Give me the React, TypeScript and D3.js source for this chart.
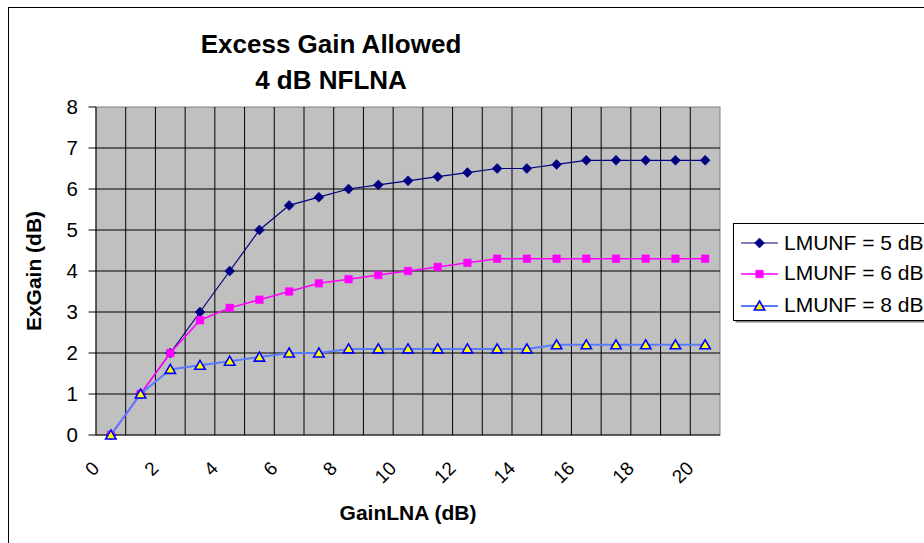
import React from 'react';
import * as d3 from 'd3';

const categories = ['0','1','2','3','4','5','6','7','8','9','10','11','12','13','14','15','16','17','18','19','20'];
const tickLabels = ['0','2','4','6','8','10','12','14','16','18','20'];
const yTicks = [0,1,2,3,4,5,6,7,8];
const lmunf5 = [0,1,2,3,4,5,5.6,5.8,6.0,6.1,6.2,6.3,6.4,6.5,6.5,6.6,6.7,6.7,6.7,6.7,6.7];
const lmunf6 = [0,1,2,2.8,3.1,3.3,3.5,3.7,3.8,3.9,4.0,4.1,4.2,4.3,4.3,4.3,4.3,4.3,4.3,4.3,4.3];
const lmunf8 = [0,1,1.6,1.7,1.8,1.9,2.0,2.0,2.1,2.1,2.1,2.1,2.1,2.1,2.1,2.2,2.2,2.2,2.2,2.2,2.2];
const seriesNames = ['LMUNF = 5 dB','LMUNF = 6 dB','LMUNF = 8 dB'];

const FONT = '"Liberation Sans", Arial, Helvetica, sans-serif';

const diamond = 'M0,-5L5,0L0,5L-5,0Z';
const square = 'M-3.8,-3.8H3.8V3.8H-3.8Z';
const triangle = 'M0,-5L5.2,4L-5.2,4Z';

export default function App() {
  const left = 96, right = 720, top = 107, bottom = 435;
  const x = d3.scaleBand<string>().domain(categories).range([left, right]).padding(0);
  const bw = x.bandwidth();
  const cx = (c: string) => (x(c) as number) + bw / 2;
  const y = d3.scaleLinear().domain([0, 8]).range([bottom, top]);
  const line = d3.line<number>().x((_, i) => cx(categories[i])).y(d => y(d));

  const series = [
    { name: seriesNames[0], data: lmunf5, color: '#000080', width: 1.2, marker: diamond, fill: '#000080', stroke: '#000080', sw: 0.5 },
    { name: seriesNames[1], data: lmunf6, color: '#FF00FF', width: 1.5, marker: square, fill: '#FF00FF', stroke: '#FF00FF', sw: 0.5 },
    { name: seriesNames[2], data: lmunf8, color: '#5B7BFF', width: 2, marker: triangle, fill: '#FFFF00', stroke: '#0000FF', sw: 1.6 },
  ];

  const legendRows = [243, 274, 306];
  const legendBase = [250, 280, 311.5];

  return (
    <svg width={924} height={543} style={{ position: 'absolute', left: 0, top: 0, background: '#fff' }} fontFamily={FONT}>
      <rect x={8.5} y={7.5} width={2000} height={2000} fill="#fff" stroke="#000" strokeWidth={1} />
      {/* Title */}
      <text x={331} y={52.7} textAnchor="middle" fontSize={26} fontWeight="bold">Excess Gain Allowed</text>
      <text x={331} y={89.3} textAnchor="middle" fontSize={26} fontWeight="bold">4 dB NFLNA</text>
      {/* Plot area */}
      <rect x={left} y={top} width={right - left} height={bottom - top} fill="#C0C0C0" stroke="#808080" strokeWidth={1} />
      {/* Horizontal gridlines */}
      {yTicks.filter(t => t > 0 && t < 8).map(t => (
        <line key={'h' + t} x1={left} x2={right} y1={y(t)} y2={y(t)} stroke="#000" strokeWidth={1} />
      ))}
      {/* Vertical gridlines */}
      {categories.slice(1).map(c => (
        <line key={'v' + c} x1={x(c) as number} x2={x(c) as number} y1={top} y2={bottom} stroke="#000" strokeWidth={1} />
      ))}
      {/* Axes */}
      <line x1={left} x2={left} y1={top} y2={bottom} stroke="#000" strokeWidth={1} />
      <line x1={left} x2={right} y1={bottom} y2={bottom} stroke="#000" strokeWidth={1} />
      {yTicks.map(t => (
        <g key={'yt' + t}>
          <line x1={88.5} x2={left} y1={y(t)} y2={y(t)} stroke="#000" strokeWidth={1} />
          <text x={77.8} y={y(t) + 7.3} textAnchor="end" fontSize={20.5}>{t}</text>
        </g>
      ))}
      {tickLabels.map(l => (
        <text key={'xt' + l} transform={`translate(${cx(l) - 14},${466}) rotate(-45)`} textAnchor="end" dominantBaseline="middle" fontSize={19}>{l}</text>
      ))}
      {/* Axis titles */}
      <text x={408} y={520} textAnchor="middle" fontSize={21} fontWeight="bold">GainLNA (dB)</text>
      <text transform={`translate(40.5,271) rotate(-90)`} textAnchor="middle" fontSize={21} fontWeight="bold">ExGain (dB)</text>
      {/* Series */}
      {series.map(s => (
        <g key={s.name}>
          <path d={line(s.data) as string} fill="none" stroke={s.color} strokeWidth={s.width} />
          {s.data.map((v, i) => (
            <path key={i} d={s.marker} transform={`translate(${cx(categories[i])},${y(v)})`} fill={s.fill} stroke={s.stroke} strokeWidth={s.sw} />
          ))}
        </g>
      ))}
      {/* Legend */}
      <rect x={735.5} y={225.5} width={300} height={97} fill="#808080" />
      <rect x={733.5} y={223.5} width={300} height={97} fill="#fff" stroke="#000" strokeWidth={1} />
      {series.map((s, i) => (
        <g key={'lg' + i}>
          <line x1={741} x2={778} y1={legendRows[i]} y2={legendRows[i]} stroke={s.color} strokeWidth={s.width} />
          <path d={s.marker} transform={`translate(759.5,${legendRows[i]})`} fill={s.fill} stroke={s.stroke} strokeWidth={s.sw} />
          <text x={784} y={legendBase[i]} fontSize={21}>{s.name}</text>
        </g>
      ))}
    </svg>
  );
}
